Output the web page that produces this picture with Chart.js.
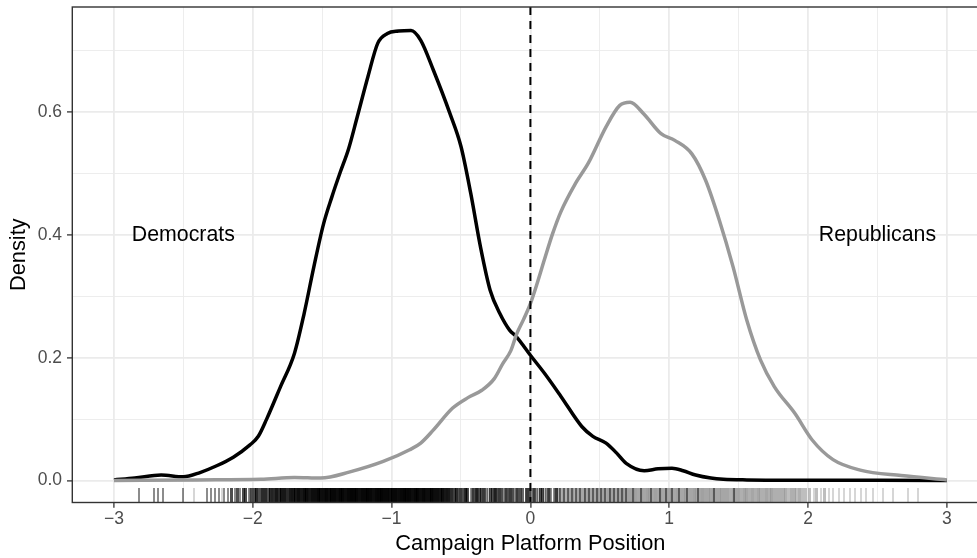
<!DOCTYPE html>
<html>
<head>
<meta charset="utf-8">
<script src="https://cdn.jsdelivr.net/npm/chart.js@4.4.1/dist/chart.umd.min.js"></script>
<style>
  html, body { margin: 0; padding: 0; background: #fff; overflow: hidden; }
  canvas { display: block; }
</style>
</head>
<body>
<canvas id="chart" width="1000" height="558"></canvas>
<script>
// Kernel density of candidates' campaign platform positions, by party,
// with a rug of individual candidates along the bottom.

// Democratic density curve
const demX = [-3.0, -2.85, -2.66, -2.5, -2.38, -2.26, -2.14, -2.02, -1.96, -1.9, -1.8, -1.7, -1.63,
  -1.56, -1.49, -1.43, -1.37, -1.31, -1.25, -1.17, -1.1, -1.03, -0.95, -0.86, -0.79, -0.7, -0.58,
  -0.5, -0.43, -0.36, -0.29, -0.22, -0.15, -0.1, 0.0, 0.1, 0.22, 0.37, 0.45, 0.545, 0.62, 0.69,
  0.82, 0.92, 1.02, 1.1, 1.19, 1.3, 1.39, 1.56, 2.0, 2.5, 3.0];
const demY = [0.001, 0.004, 0.009, 0.006, 0.013, 0.024, 0.038, 0.058, 0.072, 0.1, 0.153, 0.207, 0.272,
  0.348, 0.418, 0.462, 0.502, 0.540, 0.590, 0.658, 0.712, 0.728, 0.732, 0.733, 0.717, 0.669, 0.598,
  0.544, 0.468, 0.381, 0.31, 0.272, 0.245, 0.234, 0.204, 0.175, 0.137, 0.088, 0.072, 0.061, 0.045, 0.028,
  0.016, 0.019, 0.02, 0.016, 0.009, 0.004, 0.002, 0.001, 0.0005, 0.0003, 0.0];

// Republican density curve
const repX = [-3.0, -2.4, -1.94, -1.7, -1.51, -1.3, -1.06, -0.87, -0.79, -0.7, -0.56, -0.45, -0.35,
  -0.26, -0.2, -0.14, -0.1, -0.05, 0.0, 0.05, 0.1, 0.16, 0.22, 0.32, 0.42, 0.545, 0.644, 0.718, 0.817,
  0.941, 1.04, 1.163, 1.262, 1.361, 1.46, 1.559, 1.658, 1.757, 1.906, 2.03, 2.18, 2.376, 2.67, 3.0];
const repY = [0.0, 0.001, 0.002, 0.005, 0.004, 0.014, 0.031, 0.05, 0.061, 0.082, 0.118, 0.135, 0.147,
  0.166, 0.19, 0.212, 0.238, 0.262, 0.288, 0.322, 0.359, 0.402, 0.438, 0.482, 0.518, 0.576, 0.611, 0.616, 0.597,
  0.565, 0.554, 0.532, 0.489, 0.424, 0.348, 0.261, 0.196, 0.153, 0.109, 0.066, 0.034, 0.017, 0.008, 0.001];

// Democratic candidates: rug positions and number of candidates at each
const demRugX = [-2.82, -2.71, -2.68, -2.65, -2.50, -2.33, -2.30, -2.27, -2.24, -2.21, -2.18, -2.15, -2.13,
  -2.11, -2.09, -2.07, -2.05, -2.03, -2.01, -1.99, -1.97, -1.95, -1.93, -1.91, -1.89, -1.87,
  -1.85, -1.83, -1.81, -1.79, -1.77, -1.75, -1.73, -1.71,
  -1.69, -1.67, -1.65, -1.63, -1.61, -1.59, -1.57, -1.55, -1.53, -1.51,
  -1.49, -1.47, -1.45, -1.43, -1.41, -1.39, -1.37, -1.35, -1.33, -1.31, -1.29, -1.27, -1.25,
  -1.23, -1.21, -1.19, -1.17, -1.15, -1.13, -1.11, -1.09, -1.07, -1.05, -1.03, -1.01,
  -0.99, -0.97, -0.95, -0.93, -0.91, -0.89, -0.87, -0.85, -0.83, -0.81, -0.79,
  -0.77, -0.75, -0.73, -0.71, -0.69, -0.67, -0.65, -0.63, -0.61, -0.59, -0.57,
  -0.55, -0.53, -0.51, -0.49, -0.47, -0.45, -0.43, -0.41, -0.39, -0.37, -0.35, -0.33, -0.31,
  -0.29, -0.27, -0.25, -0.23, -0.21, -0.19, -0.17, -0.15, -0.13, -0.11, -0.09, -0.07, -0.05,
  -0.03, -0.01, 0.01, 0.03, 0.05, 0.07, 0.09, 0.11, 0.13, 0.15, 0.17, 0.19, 0.21,
  0.24, 0.27, 0.30, 0.33, 0.36, 0.39, 0.42, 0.45, 0.48, 0.51, 0.54, 0.57, 0.60, 0.63, 0.66, 0.69,
  0.74, 0.80, 0.87, 0.93, 0.98, 1.02, 1.07, 1.13, 1.21, 1.32, 1.47];
const demRugN = [1, 1, 1, 1, 1, 1, 1, 1, 1, 1, 1, 2, 1,
  2, 1, 2, 2, 1, 2, 2, 3, 2, 3, 3, 2, 3,
  3, 4, 3, 4, 4, 3, 4, 4,
  4, 5, 4, 5, 5, 4, 5, 5, 6, 5,
  5, 6, 5, 6, 6, 5, 6, 6, 5, 6, 7, 6, 6,
  5, 6, 6, 7, 6, 5, 6, 6, 7, 6, 6, 5,
  6, 6, 5, 6, 7, 6, 6, 5, 6, 6, 5,
  6, 5, 5, 6, 5, 5, 4, 5, 4, 4, 3,
  2, 3, 2, 2, 3, 2, 1, 2, 3, 2, 2, 2, 1,
  2, 2, 3, 2, 2, 1, 2, 2, 2, 1, 2, 2, 1,
  2, 2, 1, 2, 1, 2, 2, 1, 2, 1, 1, 2, 1,
  1, 1, 1, 1, 1, 1, 1, 1, 1, 1, 1, 1, 1, 1, 1, 1,
  1, 1, 1, 1, 1, 1, 1, 1, 1, 1, 1];

// Republican candidates: rug positions and number of candidates at each
const repRugX = [-2.42, -2.22, -2.02, -1.86, -1.72, -1.60, -1.48, -1.38, -1.27, -1.18, -1.10, -1.02,
  -0.95, -0.88, -0.82, -0.76, -0.70, -0.65, -0.60, -0.55,
  -0.50, -0.46, -0.42, -0.38, -0.34, -0.30, -0.26, -0.22, -0.18, -0.14, -0.10, -0.06, -0.02,
  0.02, 0.06, 0.10, 0.14, 0.18,
  0.20, 0.22, 0.24, 0.26, 0.28, 0.30, 0.32, 0.34, 0.36, 0.38,
  0.40, 0.42, 0.44, 0.46, 0.48, 0.50, 0.52, 0.54, 0.56, 0.58,
  0.60, 0.62, 0.64, 0.66, 0.68, 0.70, 0.72, 0.74, 0.76, 0.78,
  0.80, 0.82, 0.84, 0.86, 0.88, 0.90, 0.92, 0.94, 0.96, 0.98,
  1.00, 1.02, 1.04, 1.06, 1.08, 1.10, 1.12, 1.14, 1.16, 1.18,
  1.20, 1.22, 1.24, 1.26, 1.28, 1.30, 1.32, 1.34, 1.36, 1.38,
  1.40, 1.42, 1.44, 1.46, 1.48, 1.50, 1.52, 1.54, 1.56, 1.58,
  1.60, 1.62, 1.64, 1.66, 1.68, 1.70, 1.72, 1.74, 1.76, 1.78,
  1.80, 1.82, 1.84, 1.86, 1.88, 1.90, 1.92, 1.94, 1.96, 1.98,
  2.01, 2.04, 2.06, 2.09, 2.12, 2.15, 2.18, 2.22, 2.26, 2.30, 2.34, 2.38, 2.42, 2.47,
  2.54, 2.61, 2.72, 2.79];
const repRugN = [1, 1, 1, 1, 1, 1, 1, 1, 1, 1, 1, 1,
  1, 1, 1, 1, 1, 1, 1, 1,
  2, 2, 2, 2, 2, 2, 2, 2, 2, 2, 2, 2, 2,
  2, 2, 2, 2, 2,
  3, 3, 4, 3, 4, 4, 3, 4, 4, 4,
  4, 5, 4, 4, 5, 4, 5, 4, 5, 5,
  5, 4, 5, 5, 4, 5, 5, 4, 5, 4,
  5, 4, 5, 5, 4, 5, 4, 5, 4, 5,
  4, 5, 4, 5, 4, 4, 5, 4, 4, 5,
  4, 4, 5, 4, 4, 4, 5, 4, 4, 4,
  4, 4, 3, 4, 4, 4, 3, 4, 4, 3,
  4, 3, 4, 3, 3, 4, 3, 4, 3, 3,
  3, 3, 3, 2, 3, 3, 2, 3, 2, 2,
  2, 1, 2, 1, 2, 1, 1, 1, 1, 1, 1, 1, 1, 1,
  1, 1, 1, 1];

// Axis breaks and labels
const xMajorTicks = [-3, -2, -1, 0, 1, 2, 3];
const yMajorTicks = [0, 0.2, 0.4, 0.6];
const xTitle = 'Campaign Platform Position';
const yTitle = 'Density';

// Party labels placed in the panel
const partyNames = ['Democrats', 'Republicans'];
const partyNameX = [-2.5, 2.5];
const partyNameY = [0.4, 0.4];

// Dashed reference line at the centre position
const centreLineX = 0;

// ---- styling ----
const FONT = '"Liberation Sans", Arial, Helvetica, sans-serif';
const X_MIN = -3.3, X_MAX = 3.3;
const Y_MIN = -0.0358, Y_MAX = 0.7712;
const RUG_LEN = 15;         // rug tick length in px (3% of panel height)
const RUG_W_ONE = 2;        // tick width for a single candidate
const RUG_W_BIN = 3;        // tick width when several candidates share a bin

const isMajor = (list, v) => list.some(t => Math.abs(t - v) < 1e-9);
const fmtX = v => (v < 0 ? '\u2212' + Math.abs(v) : String(v));
function curvePoints(xs, ys) { return xs.map((v, i) => ({ x: v, y: ys[i] })); }

// rug strips, drawn beneath the curves; overlapping candidates darken the tick.
// Ticks are snapped to whole pixels so neighbouring bins join without seams.
const rugSeries = [
  { xs: repRugX, ns: repRugN, rgb: '153,153,153', alpha: 0.4 },
  { xs: demRugX, ns: demRugN, rgb: '0,0,0', alpha: 0.45 }
];
const rugPlugin = {
  id: 'rug',
  beforeDatasetsDraw(chart) {
    const { ctx, chartArea: a, scales: { x } } = chart;
    const bottom = Math.round(a.bottom);
    ctx.save();
    rugSeries.forEach(s => {
      s.xs.forEach((v, i) => {
        const n = s.ns[i];
        const op = 1 - Math.pow(1 - s.alpha, n);
        const w = n > 1 ? RUG_W_BIN : RUG_W_ONE;
        ctx.fillStyle = `rgba(${s.rgb},${op.toFixed(3)})`;
        const left = Math.round(x.getPixelForValue(v) - w / 2);
        ctx.fillRect(left, bottom - RUG_LEN, w, RUG_LEN);
      });
    });
    ctx.restore();
  }
};

const panelDecor = {
  id: 'panelDecor',
  afterDatasetsDraw(chart) {
    const { ctx, chartArea: a, scales: { x, y } } = chart;
    ctx.save();
    // dashed vertical reference line
    const px = x.getPixelForValue(centreLineX);
    ctx.beginPath();
    ctx.setLineDash([8, 6]);
    ctx.lineWidth = 2;
    ctx.strokeStyle = '#000';
    ctx.moveTo(px, a.top);
    ctx.lineTo(px, a.bottom);
    ctx.stroke();
    ctx.setLineDash([]);
    // party names
    ctx.font = '21.3px ' + FONT;
    ctx.fillStyle = '#000';
    ctx.textAlign = 'center';
    ctx.textBaseline = 'middle';
    partyNames.forEach((t, i) => {
      ctx.fillText(t, x.getPixelForValue(partyNameX[i]), y.getPixelForValue(partyNameY[i]));
    });
    // panel border
    ctx.lineWidth = 1.4;
    ctx.strokeStyle = '#333333';
    ctx.strokeRect(a.left, a.top, a.right - a.left, a.bottom - a.top);
    ctx.restore();
  }
};

new Chart(document.getElementById('chart'), {
  type: 'scatter',
  data: {
    datasets: [
      {
        label: 'Republicans',
        data: curvePoints(repX, repY),
        showLine: true, pointRadius: 0, borderColor: '#999999', borderWidth: 3.5,
        cubicInterpolationMode: 'monotone', fill: false, order: 0
      },
      {
        label: 'Democrats',
        data: curvePoints(demX, demY),
        showLine: true, pointRadius: 0, borderColor: '#000000', borderWidth: 3.5,
        cubicInterpolationMode: 'monotone', fill: false, order: 1
      }
    ]
  },
  options: {
    responsive: false,
    animation: false,
    devicePixelRatio: 1,
    events: [],
    layout: { padding: { left: 0, top: 7, right: 11.5, bottom: 0 } },
    plugins: { legend: { display: false }, tooltip: { enabled: false } },
    scales: {
      x: {
        type: 'linear', position: 'bottom', min: X_MIN, max: X_MAX,
        afterFit(s) { s.height = 55.5; s.paddingLeft = 0; s.paddingRight = 0; },
        ticks: {
          stepSize: 0.5, includeBounds: false, autoSkip: false, maxRotation: 0, minRotation: 0,
          padding: 1, color: '#4d4d4d', font: { family: FONT, size: 17.5 },
          callback: v => (isMajor(xMajorTicks, v) ? fmtX(v) : '')
        },
        grid: {
          color: '#ebebeb',
          lineWidth: c => (isMajor(xMajorTicks, c.tick.value) ? 1.8 : 0.9),
          tickColor: c => (isMajor(xMajorTicks, c.tick.value) ? '#333333' : 'rgba(0,0,0,0)'),
          tickLength: 5.3, tickWidth: 1.3
        },
        border: { display: false },
        title: {
          display: true, text: xTitle, color: '#000',
          font: { family: FONT, size: 21.8 }, padding: { top: 0, bottom: 1 }
        }
      },
      y: {
        type: 'linear', position: 'left', min: Y_MIN, max: Y_MAX,
        afterFit(s) { s.width = 72.3; s.paddingTop = 0; s.paddingBottom = 0; },
        ticks: {
          stepSize: 0.1, includeBounds: false, autoSkip: false,
          padding: 5, color: '#4d4d4d', font: { family: FONT, size: 17.5 },
          callback: v => (isMajor(yMajorTicks, v) ? v.toFixed(1) : '')
        },
        grid: {
          color: '#ebebeb',
          lineWidth: c => (isMajor(yMajorTicks, c.tick.value) ? 1.8 : 0.9),
          tickColor: c => (isMajor(yMajorTicks, c.tick.value) ? '#333333' : 'rgba(0,0,0,0)'),
          tickLength: 5.3, tickWidth: 1.3
        },
        border: { display: false },
        title: {
          display: true, text: yTitle, color: '#000',
          font: { family: FONT, size: 21.8 }, padding: { top: 6, bottom: 0 }
        }
      }
    }
  },
  plugins: [rugPlugin, panelDecor]
});
</script>
</body>
</html>
